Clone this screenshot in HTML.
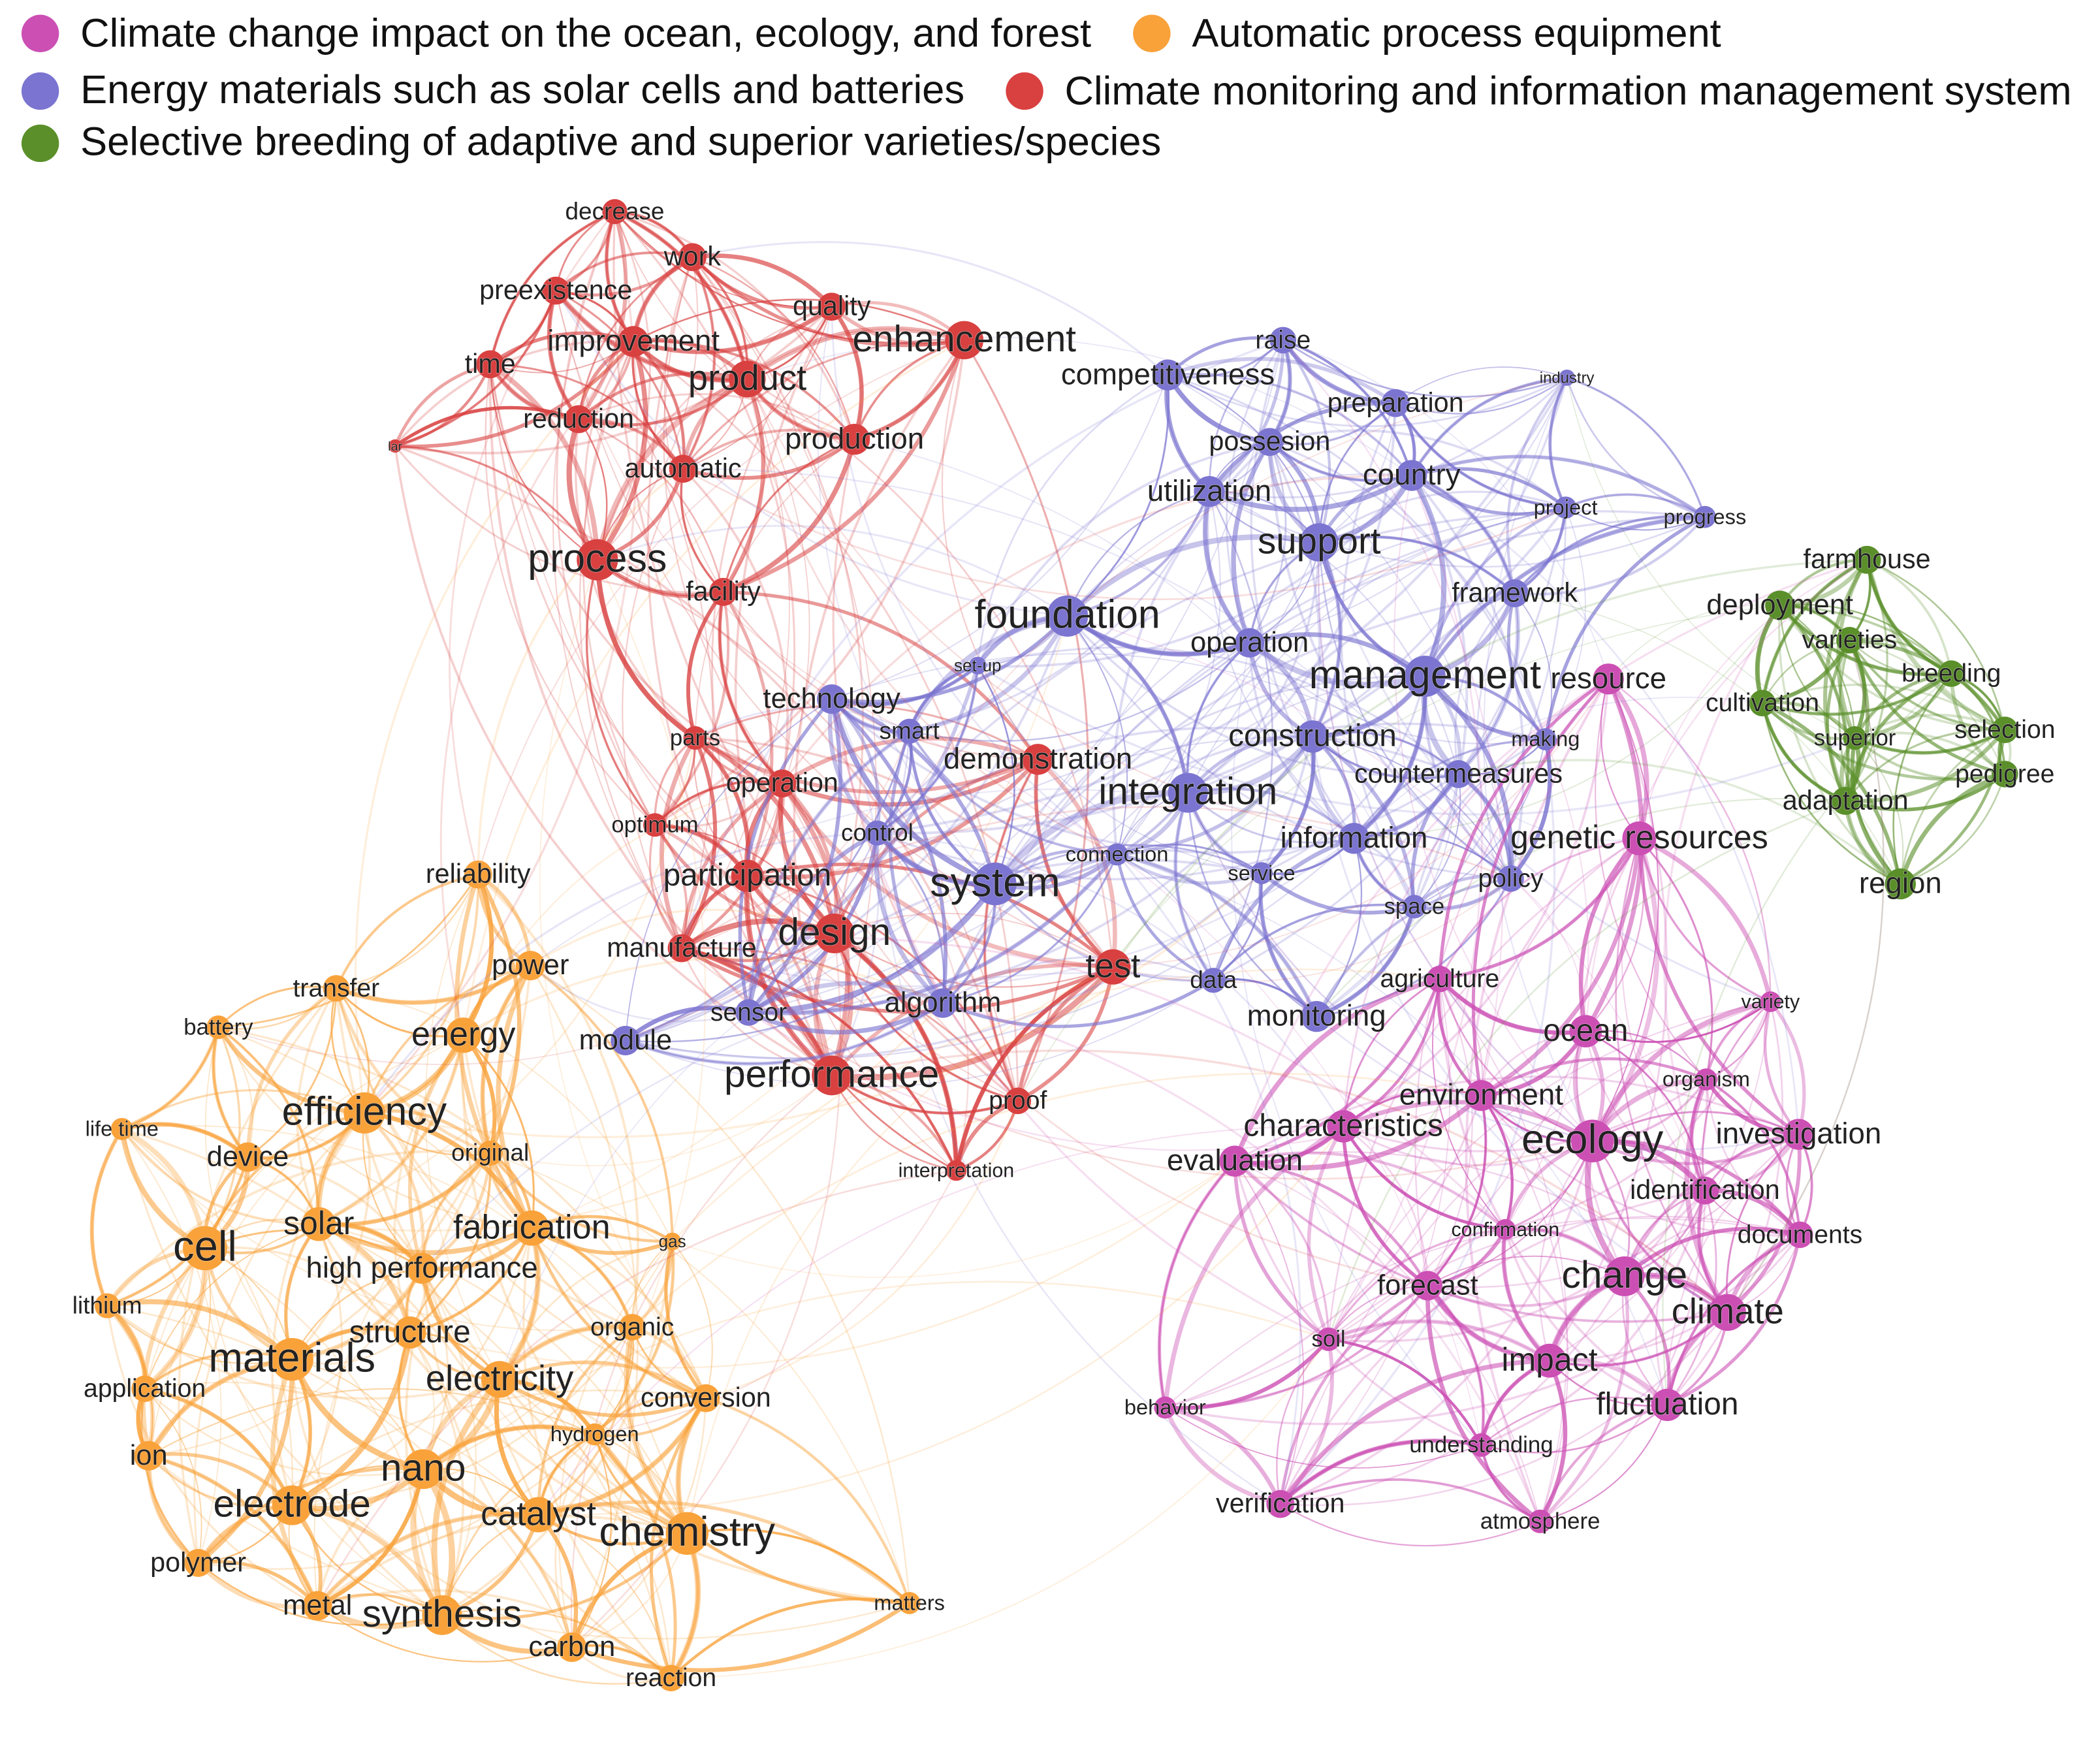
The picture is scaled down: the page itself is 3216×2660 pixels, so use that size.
<!DOCTYPE html>
<html><head><meta charset="utf-8">
<style>
html,body{margin:0;padding:0;background:#fff;width:3216px;height:2660px;overflow:hidden}
svg{display:block}
text{font-family:"Liberation Sans",Arial,sans-serif;fill:#222;text-anchor:middle;dominant-baseline:middle}
.lg{text-anchor:start;font-size:30px;fill:#111}
</style></head><body>
<svg id="s" width="3216" height="2660" viewBox="0 0 1568 1297" xmlns="http://www.w3.org/2000/svg">
<g id="edges" fill="none"></g>
<g id="nodes"></g>
<g id="labels" style="paint-order:stroke;stroke:#fff;stroke-width:0.6px;stroke-opacity:0.5"></g>
<circle cx="30" cy="25" r="14" fill="#cc4fb4"/><text class="lg" x="60" y="27">Climate change impact on the ocean, ecology, and forest</text>
<circle cx="860" cy="25" r="14" fill="#f9a23a"/><text class="lg" x="890" y="27">Automatic process equipment</text>
<circle cx="30" cy="68" r="14" fill="#7b74d0"/><text class="lg" x="60" y="69">Energy materials such as solar cells and batteries</text>
<circle cx="765" cy="68" r="14" fill="#d94040"/><text class="lg" x="795" y="70">Climate monitoring and information management system</text>
<circle cx="30" cy="107" r="14" fill="#5a8f2a"/><text class="lg" x="60" y="108">Selective breeding of adaptive and superior varieties/species</text>
</svg>
<script>
var C={r:"#d94040",b:"#7b74d0",g:"#5a8f2a",p:"#cc4fb4",o:"#f9a23a"};
var N=[
["r","decrease",459,158,17],["r","work",517,192,19],["r","preexistence",415,217,19],["r","quality",621,229,19],["r","enhancement",720,254,26],["r","improvement",473,255,21],["r","time",366,272,19],["r","product",558,283,25],["r","reduction",432,313,19],["r","lar",295,333,9],["r","production",638,328,21],["r","automatic",510,350,19],["r","process",446,418,28],["r","facility",540,442,19],["r","parts",519,551,16],["r","operation",584,585,19],["r","demonstration",775,567,21],["r","optimum",489,616,16],["r","participation",558,654,22],["r","design",623,697,27],["r","manufacture",509,708,19],["r","test",831,722,24],["r","performance",621,803,27],["r","proof",760,822,18],["r","interpretation",714,874,14],
["b","competitiveness",872,280,21],["b","raise",958,254,18],["b","preparation",1042,301,19],["b","industry",1170,282,11],["b","possesion",948,330,19],["b","country",1054,355,21],["b","utilization",903,367,21],["b","project",1169,379,15],["b","progress",1273,386,15],["b","support",985,405,26],["b","framework",1131,443,19],["b","foundation",797,460,28],["b","operation",933,480,20],["b","set-up",730,497,12],["b","management",1064,505,28],["b","technology",621,522,20],["b","smart",679,546,17],["b","construction",980,550,22],["b","making",1154,552,15],["b","countermeasures",1089,578,19],["b","integration",887,592,27],["b","control",655,622,17],["b","connection",834,638,15],["b","information",1011,626,21],["b","service",942,652,15],["b","system",743,660,29],["b","space",1056,677,16],["b","policy",1128,656,18],["b","data",906,732,17],["b","algorithm",704,749,20],["b","monitoring",983,759,21],["b","sensor",559,756,18],["b","module",467,777,20],
["g","farmhouse",1394,418,19],["g","deployment",1329,452,20],["g","varieties",1381,478,18],["g","breeding",1457,503,18],["g","cultivation",1316,525,18],["g","superior",1385,551,16],["g","selection",1497,545,18],["g","pedigree",1497,578,18],["g","adaptation",1378,598,19],["g","region",1419,660,21],
["p","resource",1201,507,21],["p","genetic resources",1224,626,23],["p","agriculture",1075,731,18],["p","variety",1322,748,14],["p","ocean",1184,770,22],["p","organism",1274,806,15],["p","environment",1106,818,21],["p","characteristics",1003,841,22],["p","ecology",1189,852,29],["p","investigation",1343,847,21],["p","evaluation",922,867,21],["p","identification",1273,889,19],["p","confirmation",1124,918,14],["p","documents",1344,922,18],["p","forecast",1066,960,20],["p","change",1213,953,27],["p","climate",1290,980,25],["p","soil",992,1000,16],["p","impact",1157,1016,23],["p","fluctuation",1245,1049,22],["p","behavior",870,1051,15],["p","understanding",1106,1079,16],["p","verification",956,1123,19],["p","atmosphere",1150,1136,16],
["o","reliability",357,653,19],["o","power",396,721,20],["o","transfer",251,738,18],["o","battery",163,767,16],["o","energy",346,773,24],["o","efficiency",272,831,28],["o","life time",91,843,15],["o","device",185,864,20],["o","original",366,861,17],["o","solar",238,914,23],["o","fabrication",397,917,24],["o","cell",153,932,30],["o","gas",502,927,12],["o","high performance",315,947,21],["o","lithium",80,975,17],["o","structure",306,995,22],["o","organic",472,991,18],["o","materials",218,1015,29],["o","electricity",373,1030,25],["o","application",108,1037,18],["o","conversion",527,1044,19],["o","hydrogen",444,1071,15],["o","ion",111,1087,20],["o","nano",316,1097,27],["o","electrode",218,1124,27],["o","catalyst",402,1131,24],["o","chemistry",513,1145,29],["o","polymer",148,1167,19],["o","metal",237,1199,20],["o","synthesis",330,1206,27],["o","matters",679,1197,15],["o","carbon",427,1230,20],["o","reaction",501,1253,18]
];
var seed=7;function rnd(){seed=(seed*16807)%2147483647;return seed/2147483647;}
var ns="http://www.w3.org/2000/svg";
var E=document.getElementById("edges"),ND=document.getElementById("nodes"),L=document.getElementById("labels");
function edge(a,b,w,op){
 var x1=a[2],y1=a[3],x2=b[2],y2=b[3],dx=x2-x1,dy=y2-y1;
 var k=0.25*(rnd()>0.5?1:-1);
 var cx=(x1+x2)/2-dy*k,cy=(y1+y2)/2+dx*k;
 var p=document.createElementNS(ns,"path");
 p.setAttribute("d","M"+x1+","+y1+" Q"+cx+","+cy+" "+x2+","+y2);
 p.setAttribute("stroke",C[a[0]]);p.setAttribute("stroke-width",w);p.setAttribute("stroke-opacity",op);
 E.appendChild(p);
}
var groups={};N.forEach(function(n){(groups[n[0]]=groups[n[0]]||[]).push(n);});
for(var g in groups){var arr=groups[g];
 arr.forEach(function(a){
  var s=arr.slice().sort(function(p,q){return Math.hypot(p[2]-a[2],p[3]-a[3])-Math.hypot(q[2]-a[2],q[3]-a[3]);});
  var k=Math.round(3+a[4]/5);
  for(var i=1;i<=k&&i<s.length;i++){edge(a,s[i],0.8+(a[4]+s[i][4])/22*rnd()*1.6,0.35+rnd()*0.35);}
  for(var j=0;j<3;j++){var b=arr[Math.floor(rnd()*arr.length)];if(b!==a)edge(a,b,0.8+rnd()*1.2,0.25);}
 });
}
for(var i=0;i<260;i++){var a=N[Math.floor(rnd()*N.length)],b=N[Math.floor(rnd()*N.length)];
 if(a[0]!==b[0]&&Math.hypot(a[2]-b[2],a[3]-b[3])<700)edge(a,b,0.7+rnd(),0.18);}
N.forEach(function(n){
 var c=document.createElementNS(ns,"circle");
 c.setAttribute("cx",n[2]);c.setAttribute("cy",n[3]);c.setAttribute("r",Math.max(5,n[4]*0.55));
 c.setAttribute("fill",C[n[0]]);ND.appendChild(c);
 var t=document.createElementNS(ns,"text");
 t.setAttribute("x",n[2]);t.setAttribute("y",n[3]+1);t.setAttribute("font-size",n[4]*1.06);
 t.textContent=n[1];L.appendChild(t);
});
</script>
</body></html>
